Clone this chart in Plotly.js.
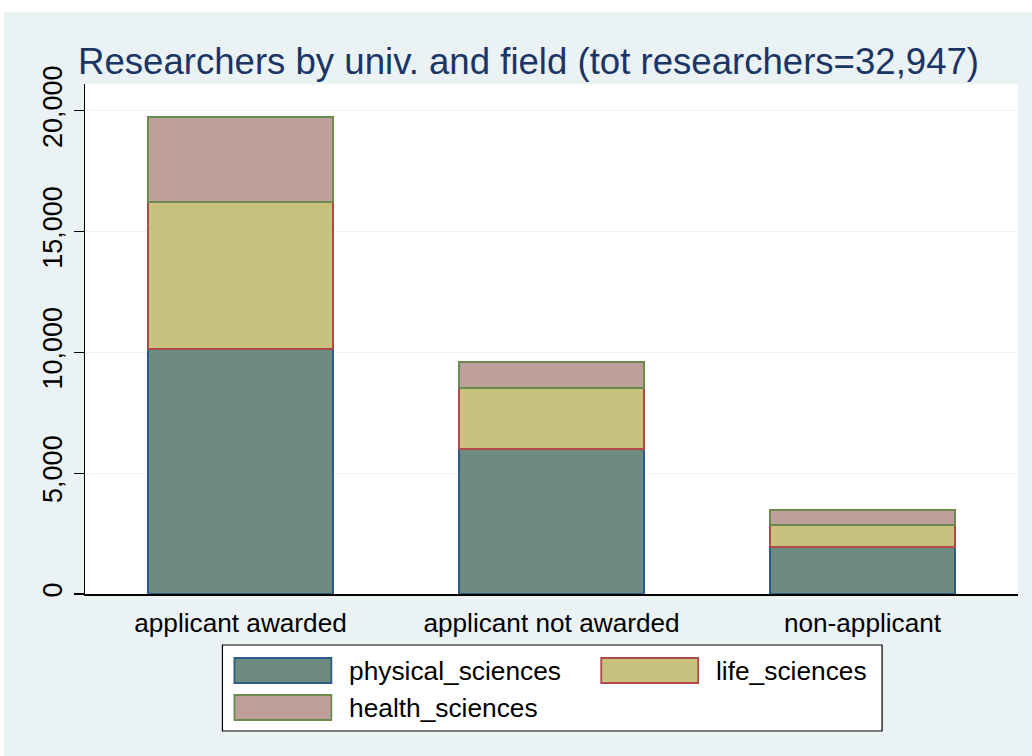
<!DOCTYPE html>
<html>
<head>
<meta charset="utf-8">
<script src="https://cdn.plot.ly/plotly-3.0.1.min.js"></script>
<style>
  html, body { margin: 0; padding: 0; background: #ffffff; width: 1032px; height: 756px; overflow: hidden; }
  #chart { position: absolute; left: 4px; top: 12px; width: 1028px; height: 744px; }
</style>
</head>
<body>
<div id="chart"></div>
<script>
// ---- data ----
const categories = ["applicant awarded", "applicant not awarded", "non-applicant"];
const seriesNames = ["physical_sciences", "life_sciences", "health_sciences"];
const physical_sciences = [10140, 6000, 1960];
const life_sciences = [6070, 2540, 900];
const health_sciences = [3540, 1060, 620];
const yTickVals = [0, 5000, 10000, 15000, 20000];
const titleText = "Researchers by univ. and field (tot researchers=32,947)";

// ---- styles ----
const fills = ["#6d8b7e", "#c9c27e", "#bda09a"];
const outlines = ["#2b5b86", "#b04a4a", "#6b8a4b"];
const FONT = "Liberation Sans, Arial, sans-serif";

const values = [physical_sciences, life_sciences, health_sciences];
const traces = values.map((v, i) => ({
  type: "bar",
  name: seriesNames[i],
  x: categories,
  y: v,
  width: 0.595,
  marker: { color: fills[i], line: { color: outlines[i], width: 1.8 } },
  showlegend: false,
  hoverinfo: "skip"
}));

// page-pixel -> paper conversion (plot area: x 84.5..1018, y 84..594 in page px)
const PX0 = 84.5, PX1 = 1018, PY0 = 594, PY1 = 84;
const px = x => (x - PX0) / (PX1 - PX0);
const py = y => (PY0 - y) / (PY0 - PY1);

const shapes = [
  { type: "rect", xref: "paper", yref: "paper", x0: px(222), x1: px(882), y0: py(731), y1: py(645),
    fillcolor: "#ffffff", line: { color: "#000000", width: 1.2 }, layer: "above" }
];
const annotations = [];
const legendPos = [
  { sx: 234, tx: 347, y0: 658, y1: 683 },
  { sx: 601, tx: 714, y0: 658, y1: 683 },
  { sx: 234, tx: 347, y0: 695, y1: 720 }
];
seriesNames.forEach((n, i) => {
  const p = legendPos[i];
  shapes.push({ type: "rect", xref: "paper", yref: "paper",
    x0: px(p.sx), x1: px(p.sx + 97), y0: py(p.y1), y1: py(p.y0),
    fillcolor: fills[i], line: { color: outlines[i], width: 1.8 }, layer: "above" });
  annotations.push({ xref: "paper", yref: "paper", x: px(p.tx), y: py((p.y0 + p.y1) / 2),
    xanchor: "left", yanchor: "middle", text: n, showarrow: false,
    font: { family: FONT, size: 26.3, color: "#000000" } });
});

const layout = {
  width: 1028, height: 744,
  paper_bgcolor: "#eaf2f3",
  plot_bgcolor: "#ffffff",
  margin: { l: 80.5, r: 14, t: 72, b: 162, pad: 0 },
  barmode: "stack",
  bargap: 0.405,
  title: {
    text: titleText,
    font: { family: FONT, size: 36.6, color: "#1a3566" },
    xref: "container", yref: "container",
    x: 74 / 1028, xanchor: "left",
    y: 1 - 49 / 744, yanchor: "middle"
  },
  xaxis: {
    type: "category",
    range: [-0.5, 2.5],
    showline: true, linecolor: "#000000", linewidth: 1.5,
    ticks: "", showgrid: false,
    tickfont: { family: FONT, size: 26.2, color: "#000000" },
    ticklabelstandoff: 5
  },
  yaxis: {
    range: [0, 21105],
    tickvals: yTickVals,
    tickformat: ",",
    tickangle: -90,
    ticks: "outside", ticklen: 10, tickwidth: 1.2, tickcolor: "#000000",
    showline: true, linecolor: "#000000", linewidth: 1.5,
    showgrid: true, gridcolor: "#eaf2f3", gridwidth: 1.2,
    zeroline: false,
    tickfont: { family: FONT, size: 27, color: "#000000" },
    ticklabelstandoff: 1
  },
  shapes: shapes,
  annotations: annotations,
  showlegend: false
};

Plotly.newPlot("chart", traces, layout, { displayModeBar: false, staticPlot: true });
</script>
</body>
</html>
